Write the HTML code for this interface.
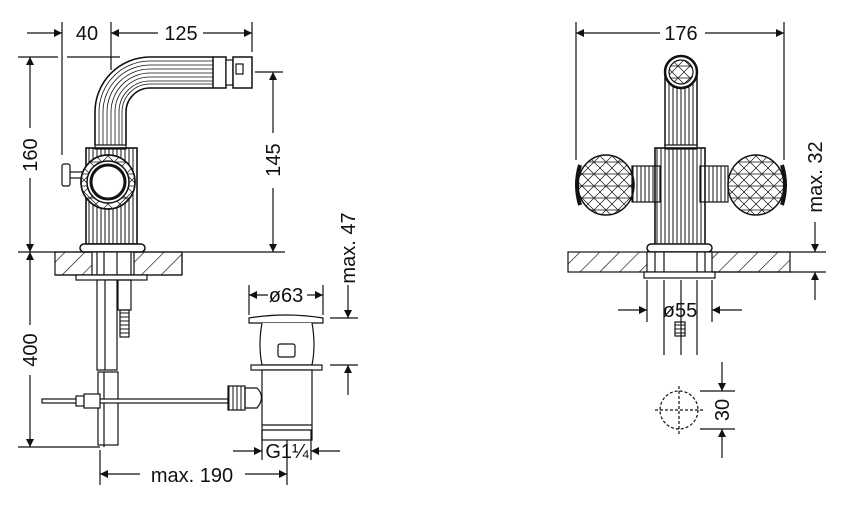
<!DOCTYPE html>
<html><head><meta charset="utf-8"><style>
html,body{margin:0;padding:0;background:#fff;}
svg{display:block}
text{font-family:"Liberation Sans",Arial,sans-serif;font-size:20px;fill:#111}
</style></head><body>
<svg width="844" height="514" viewBox="0 0 844 514" xmlns="http://www.w3.org/2000/svg">
<defs>
<marker id="a" viewBox="0 0 10 10" refX="10" refY="5" markerWidth="12" markerHeight="8" markerUnits="userSpaceOnUse" orient="auto-start-reverse"><path d="M0,0L10,5L0,10z" fill="#111"/></marker>
<pattern id="h" width="14" height="14" patternUnits="userSpaceOnUse" patternTransform="rotate(45)"><line x1="0" y1="0" x2="0" y2="14" stroke="#111" stroke-width="1.3"/></pattern>
<pattern id="rib" width="4" height="10" patternUnits="userSpaceOnUse"><line x1="1" y1="0" x2="1" y2="10" stroke="#111" stroke-width="1"/></pattern>
<pattern id="ribh" width="10" height="4" patternUnits="userSpaceOnUse"><line x1="0" y1="1" x2="10" y2="1" stroke="#111" stroke-width="1"/></pattern>
<pattern id="dia" width="12" height="12" patternUnits="userSpaceOnUse"><path d="M0,0L12,12M12,0L0,12M0,6H12" stroke="#111" stroke-width="0.7" fill="none"/></pattern>
</defs>
<g stroke="#111" stroke-width="1.2" fill="none">
<line x1="62" y1="22" x2="62" y2="155"/><line x1="111" y1="22" x2="111" y2="70"/><line x1="252" y1="22" x2="252" y2="52"/>
<line x1="27" y1="33" x2="62" y2="33" marker-end="url(#a)"/>
<line x1="111" y1="33" x2="158" y2="33" marker-start="url(#a)"/><line x1="203" y1="33" x2="252" y2="33" marker-end="url(#a)"/>
<line x1="18" y1="57" x2="58" y2="57"/><line x1="67" y1="57" x2="120" y2="57"/>
<line x1="30" y1="57" x2="30" y2="128" marker-start="url(#a)"/><line x1="30" y1="178" x2="30" y2="252" marker-end="url(#a)"/>
<line x1="255" y1="72" x2="283" y2="72"/>
<line x1="273" y1="72" x2="273" y2="133" marker-start="url(#a)"/><line x1="273" y1="188" x2="273" y2="252" marker-end="url(#a)"/>
<line x1="18" y1="252" x2="285" y2="252"/>
<line x1="30" y1="252" x2="30" y2="325" marker-start="url(#a)"/><line x1="30" y1="375" x2="30" y2="447" marker-end="url(#a)"/>
<line x1="18" y1="447" x2="100" y2="447"/>
<line x1="100" y1="450" x2="100" y2="485"/><line x1="287" y1="435" x2="287" y2="485"/>
<line x1="100" y1="474" x2="140" y2="474" marker-start="url(#a)"/><line x1="245" y1="474" x2="287" y2="474" marker-end="url(#a)"/>
<path d="M95,145V112A55,55 0 0 1 150,57H213" stroke-width="1.6"/>
<path d="M126,145V112A24,24 0 0 1 150,88H213" stroke-width="1.6"/>
<g stroke-width="0.8">
<path d="M99,145V112A51,51 0 0 1 150,61H213"/><path d="M103,145V112A47,47 0 0 1 150,65H213"/><path d="M107,145V112A43,43 0 0 1 150,69H213"/><path d="M111,145V112A39,39 0 0 1 150,73H213"/><path d="M115,145V112A35,35 0 0 1 150,77H213"/><path d="M119,145V112A31,31 0 0 1 150,81H213"/><path d="M122,145V112A28,28 0 0 1 150,84H213"/>
</g>
<rect x="213" y="57" width="13" height="31" fill="#fff" stroke-width="1.5"/>
<rect x="226" y="60" width="7" height="25" fill="#fff"/>
<rect x="233" y="57" width="19" height="31" fill="#fff" stroke-width="1.5"/>
<rect x="236" y="64" width="7" height="10"/>
<rect x="95" y="145" width="31" height="4" fill="#fff"/>
<rect x="86" y="148" width="51" height="96" fill="url(#rib)" stroke-width="1.6"/>
<rect x="80" y="244" width="65" height="8" rx="4" fill="#fff" stroke-width="1.5"/>
<rect x="62" y="164" width="8" height="22" rx="2" fill="#fff"/>
<line x1="70" y1="172" x2="85" y2="172"/><line x1="70" y1="178" x2="85" y2="178"/>
<circle cx="108" cy="182" r="27" fill="#fff" stroke-width="1.5"/>
<circle cx="108" cy="182" r="27" fill="url(#dia)" stroke-width="1.5"/>
<circle cx="108" cy="182" r="21" fill="#fff" stroke-width="1.5"/>
<circle cx="108" cy="182" r="17" fill="#fff" stroke-width="3"/>
<rect x="55" y="252" width="127" height="23" fill="url(#h)"/>
<rect x="92" y="252" width="42" height="23" fill="#fff"/>
<line x1="97" y1="252" x2="97" y2="275"/><line x1="104" y1="252" x2="104" y2="275"/><line x1="117" y1="252" x2="117" y2="275"/><line x1="131" y1="252" x2="131" y2="275"/>
<line x1="55" y1="275" x2="182" y2="275"/><line x1="182" y1="252" x2="182" y2="275"/>
<rect x="76" y="275" width="71" height="5" fill="#fff"/>
<rect x="97" y="280" width="20" height="90" fill="#fff"/><line x1="105" y1="280" x2="105" y2="370"/>
<rect x="118" y="280" width="13" height="30"/><rect x="120" y="310" width="9" height="27" fill="url(#ribh)"/>
<rect x="98" y="372" width="20" height="73" fill="#fff"/><line x1="104" y1="372" x2="104" y2="447"/>
<rect x="42" y="399" width="186" height="4" fill="#fff"/>
<rect x="76" y="396" width="8" height="10" fill="#fff"/><rect x="84" y="394" width="16" height="14" fill="#fff"/>
<path d="M249,318Q286,312 323,318V323H249z" fill="#fff"/>
<path d="M262,323Q258,345 262,365H312Q316,345 312,323" fill="#fff"/>
<rect x="278" y="344" width="17" height="13" rx="2"/>
<rect x="251" y="365" width="71" height="5" fill="#fff"/>
<rect x="262" y="370" width="50" height="70" fill="#fff"/>
<line x1="262" y1="425" x2="312" y2="425"/><line x1="262" y1="430" x2="312" y2="430"/>
<path d="M245,388H257Q266,397 257,408H245z" fill="#fff"/>
<rect x="228" y="386" width="17" height="24" fill="url(#rib)"/>
<line x1="249" y1="285" x2="249" y2="315"/><line x1="323" y1="285" x2="323" y2="315"/>
<line x1="249" y1="295" x2="268" y2="295" marker-start="url(#a)"/><line x1="307" y1="295" x2="323" y2="295" marker-end="url(#a)"/>
<line x1="330" y1="318" x2="358" y2="318"/><line x1="330" y1="365" x2="358" y2="365"/>
<line x1="348" y1="285" x2="348" y2="318" marker-end="url(#a)"/><line x1="348" y1="395" x2="348" y2="365" marker-end="url(#a)"/>
<line x1="262" y1="430" x2="262" y2="460"/><line x1="311" y1="430" x2="311" y2="460"/>
<line x1="233" y1="451" x2="262" y2="451" marker-end="url(#a)"/><line x1="340" y1="451" x2="311" y2="451" marker-end="url(#a)"/>
<line x1="576" y1="22" x2="576" y2="160"/><line x1="784" y1="22" x2="784" y2="160"/>
<line x1="576" y1="33" x2="660" y2="33" marker-start="url(#a)"/><line x1="705" y1="33" x2="784" y2="33" marker-end="url(#a)"/>
<rect x="665" y="72" width="32" height="74" fill="url(#rib)" stroke-width="1.5"/>
<circle cx="681" cy="72" r="16" fill="#fff" stroke-width="2.5"/>
<circle cx="681" cy="72" r="12" fill="url(#dia)"/>
<rect x="665" y="145" width="32" height="4" fill="#fff"/>
<rect x="655" y="148" width="50" height="97" fill="url(#rib)" stroke-width="1.6"/>
<rect x="632" y="166" width="28" height="36" fill="url(#rib)"/>
<rect x="700" y="166" width="28" height="36" fill="url(#rib)"/>
<ellipse cx="606" cy="185" rx="28" ry="30" fill="url(#dia)" stroke-width="1.5"/>
<ellipse cx="756" cy="185" rx="28" ry="30" fill="url(#dia)" stroke-width="1.5"/>
<path d="M580,165Q574,185 580,205" stroke-width="4"/><path d="M782,165Q788,185 782,205" stroke-width="4"/>
<rect x="647" y="244" width="65" height="8" rx="4" fill="#fff" stroke-width="1.5"/>
<rect x="568" y="252" width="222" height="20" fill="url(#h)"/>
<rect x="647" y="252" width="65" height="20" fill="#fff"/>
<line x1="655" y1="252" x2="655" y2="272"/><line x1="705" y1="252" x2="705" y2="272"/><line x1="664" y1="252" x2="664" y2="272"/><line x1="697" y1="252" x2="697" y2="272"/>
<rect x="644" y="272" width="71" height="6" fill="#fff"/>
<line x1="664" y1="280" x2="664" y2="355"/><line x1="697" y1="280" x2="697" y2="355"/><line x1="681" y1="280" x2="681" y2="355"/>
<rect x="675" y="322" width="10" height="14" fill="url(#ribh)"/>
<line x1="712" y1="252" x2="826" y2="252"/><line x1="712" y1="272" x2="826" y2="272"/>
<line x1="815" y1="222" x2="815" y2="252" marker-end="url(#a)"/><line x1="815" y1="300" x2="815" y2="272" marker-end="url(#a)"/>
<line x1="647" y1="280" x2="647" y2="322"/><line x1="712" y1="280" x2="712" y2="322"/>
<line x1="618" y1="310" x2="647" y2="310" marker-end="url(#a)"/><line x1="742" y1="310" x2="712" y2="310" marker-end="url(#a)"/>
<circle cx="679" cy="410" r="19" stroke-dasharray="3,2"/>
<line x1="655" y1="410" x2="703" y2="410" stroke-dasharray="3,2"/><line x1="679" y1="386" x2="679" y2="434" stroke-dasharray="3,2"/>
<line x1="700" y1="391" x2="735" y2="391"/><line x1="700" y1="429" x2="735" y2="429"/>
<line x1="722" y1="362" x2="722" y2="391" marker-end="url(#a)"/><line x1="722" y1="458" x2="722" y2="429" marker-end="url(#a)"/>
</g>
<text x="87" y="40" text-anchor="middle">40</text>
<text x="181" y="40" text-anchor="middle">125</text>
<text x="192" y="482" text-anchor="middle">max. 190</text>
<text x="286" y="302" text-anchor="middle">ø63</text>
<text x="287" y="458" text-anchor="middle">G1¼</text>
<text transform="translate(37,155) rotate(-90)" text-anchor="middle">160</text>
<text transform="translate(37,350) rotate(-90)" text-anchor="middle">400</text>
<text transform="translate(280,160) rotate(-90)" text-anchor="middle">145</text>
<text transform="translate(355,248) rotate(-90)" text-anchor="middle">max. 47</text>
<text x="681" y="40" text-anchor="middle">176</text>
<text transform="translate(822,177) rotate(-90)" text-anchor="middle">max. 32</text>
<text x="680" y="317" text-anchor="middle">ø55</text>
<text transform="translate(729,410) rotate(-90)" text-anchor="middle">30</text>
</svg>
</body></html>
